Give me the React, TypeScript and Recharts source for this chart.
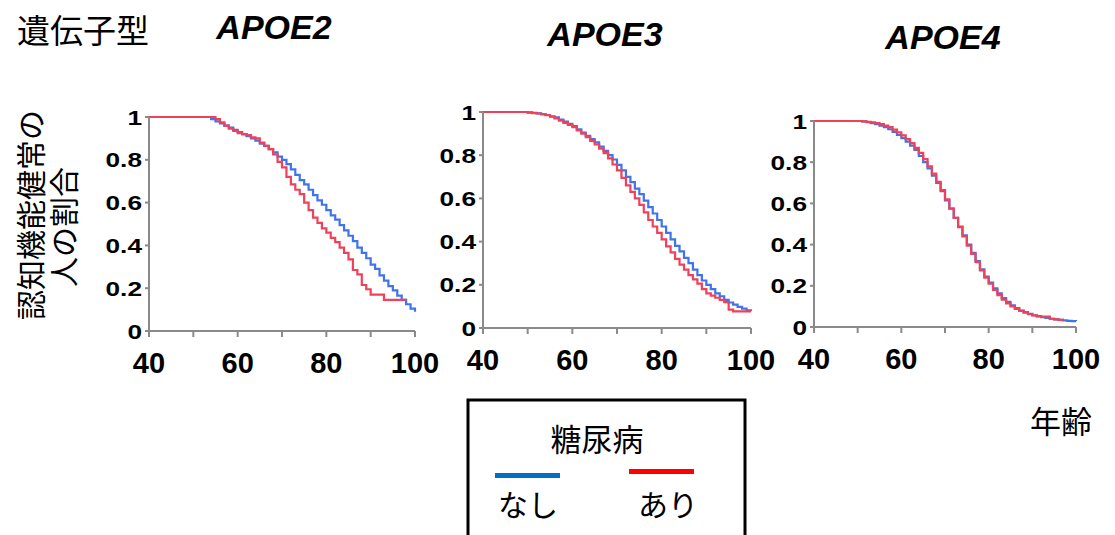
import { LineChart, Line, XAxis, YAxis } from "recharts";

// age grid (years)
const ages = [
  40, 41, 42, 43, 44, 45, 46, 47, 48, 49,
  50, 51, 52, 53, 54, 55, 56, 57, 58, 59,
  60, 61, 62, 63, 64, 65, 66, 67, 68, 69,
  70, 71, 72, 73, 74, 75, 76, 77, 78, 79,
  80, 81, 82, 83, 84, 85, 86, 87, 88, 89,
  90, 91, 92, 93, 94, 95, 96, 97, 98, 99,
  100,
];

// APOE2
const apoe2None = [
  1, 1, 1, 1, 1, 1, 1, 1, 1, 1,
  1, 1, 1, 1, 0.99, 0.98, 0.97, 0.96, 0.95, 0.94,
  0.93, 0.92, 0.91, 0.9, 0.89, 0.875, 0.865, 0.85, 0.835, 0.815,
  0.8, 0.78, 0.755, 0.73, 0.705, 0.685, 0.66, 0.635, 0.61, 0.59,
  0.565, 0.54, 0.52, 0.495, 0.47, 0.445, 0.42, 0.39, 0.365, 0.34,
  0.31, 0.29, 0.26, 0.235, 0.21, 0.19, 0.165, 0.145, 0.125, 0.105,
  0.09,
];
const apoe2Dm = [
  1, 1, 1, 1, 1, 1, 1, 1, 1, 1,
  1, 1, 1, 1, 1, 0.99, 0.975, 0.96, 0.945, 0.935,
  0.925, 0.92, 0.915, 0.905, 0.9, 0.88, 0.865, 0.85, 0.825, 0.79,
  0.765, 0.72, 0.685, 0.66, 0.64, 0.6, 0.565, 0.53, 0.505, 0.48,
  0.46, 0.435, 0.415, 0.39, 0.365, 0.335, 0.285, 0.265, 0.215, 0.195,
  0.17, 0.17, 0.17, 0.145, 0.145, 0.145, 0.145, 0.145, 0.145, null,
  null,
];

// APOE3
const apoe3None = [
  1, 1, 1, 1, 1, 1, 1, 1, 1, 1,
  0.998, 0.996, 0.994, 0.99, 0.986, 0.98, 0.975, 0.965, 0.955, 0.945,
  0.935, 0.92, 0.905, 0.89, 0.875, 0.86, 0.84, 0.82, 0.8, 0.78,
  0.755, 0.73, 0.7, 0.675, 0.645, 0.62, 0.59, 0.56, 0.53, 0.5,
  0.47, 0.44, 0.41, 0.38, 0.355, 0.325, 0.3, 0.27, 0.245, 0.22,
  0.2, 0.18, 0.16, 0.147, 0.13, 0.118, 0.108, 0.098, 0.09, 0.082,
  0.077,
];
const apoe3Dm = [
  1, 1, 1, 1, 1, 1, 1, 1, 1, 1,
  0.997, 0.995, 0.993, 0.99, 0.985, 0.978, 0.97, 0.96, 0.95, 0.94,
  0.93, 0.915, 0.9, 0.883, 0.866, 0.85, 0.83, 0.81, 0.785, 0.757,
  0.73, 0.695, 0.66, 0.63, 0.6, 0.57, 0.535, 0.5, 0.47, 0.44,
  0.41, 0.378, 0.35, 0.32, 0.293, 0.27, 0.245, 0.225, 0.205, 0.18,
  0.16, 0.15, 0.14, 0.13, 0.12, 0.085, 0.077, 0.077, 0.077, 0.077,
  0.077,
];

// APOE4
const apoe4None = [
  1, 1, 1, 1, 1, 1, 1, 1, 1, 1,
  1, 0.998, 0.995, 0.99, 0.985, 0.978, 0.97, 0.96, 0.947, 0.932,
  0.917, 0.9, 0.88, 0.86, 0.83, 0.8, 0.77, 0.735, 0.7, 0.66,
  0.615, 0.575, 0.53, 0.487, 0.445, 0.4, 0.36, 0.32, 0.28, 0.245,
  0.215, 0.188, 0.163, 0.14, 0.122, 0.105, 0.092, 0.08, 0.072, 0.064,
  0.057, 0.052, 0.048, 0.044, 0.04, 0.037, 0.035, 0.032, 0.03, 0.029,
  0.028,
];
const apoe4Dm = [
  1, 1, 1, 1, 1, 1, 1, 1, 1, 1,
  1, 0.998, 0.996, 0.993, 0.99, 0.985, 0.978, 0.97, 0.958, 0.945,
  0.93, 0.912, 0.893, 0.87, 0.845, 0.815, 0.78, 0.745, 0.705, 0.665,
  0.62, 0.575, 0.53, 0.485, 0.44, 0.395, 0.355, 0.315, 0.275, 0.24,
  0.21, 0.18, 0.155, 0.133, 0.115, 0.1, 0.088, 0.078, 0.07, 0.062,
  0.056, 0.053, 0.05, 0.05, 0.04, 0.037, 0.035, 0.033, null, null,
  null,
];

const xTicks = [40, 50, 60, 70, 80, 90, 100];
const xTickLabels = ["40", "", "60", "", "80", "", "100"];
const yTicks = [0, 0.2, 0.4, 0.6, 0.8, 1];
const yTickLabels = ["0", "0.2", "0.4", "0.6", "0.8", "1"];

const BLUE = "#3f74ea";
const RED = "#f0415a";
const AXIS = "#8a8a8a";
const SANS = "'Liberation Sans', Arial, sans-serif";
const CJK = "'Noto Sans CJK JP', 'Noto Sans', sans-serif";

const YTick = (props: any) => {
  const { x, y, payload } = props;
  const label = yTickLabels[yTicks.indexOf(payload.value)];
  return (
    <g transform={`translate(${x},${y})`}>
      <text
        textAnchor="end"
        dy="0.36em"
        transform="scale(1.25,1)"
        fontSize={21}
        fontWeight="bold"
        fontFamily={SANS}
        fill="#000"
      >
        {label}
      </text>
    </g>
  );
};

interface PanelProps {
  px0: number;
  py0: number;
  px1: number;
  py1: number;
  none: (number | null)[];
  dm: (number | null)[];
}

const Panel = ({ px0, py0, px1, py1, none, dm }: PanelProps) => {
  const ml = 60, mt = 22, mr = 30, xh = 60;
  const left = px0 - ml;
  const top = py0 - mt;
  const width = px1 - left + mr;
  const height = py1 - top + xh;
  const rows = ages.map((age, i) => ({ age, none: none[i], dm: dm[i] }));

  return (
    <div style={{ position: "absolute", left, top }}>
      <LineChart width={width} height={height} data={rows} margin={{ top: mt, right: mr, left: 0, bottom: 0 }}>
        <XAxis
          dataKey="age"
          type="number"
          domain={[40, 100]}
          ticks={xTicks}
          interval={0}
          tickFormatter={(v) => xTickLabels[xTicks.indexOf(v)]}
          height={xh}
          stroke={AXIS}
          strokeWidth={2}
          tickSize={6}
          tickMargin={15}
          tick={{ fontSize: 29, fontWeight: "bold", fill: "#000", fontFamily: SANS }}
        />
        <YAxis
          type="number"
          domain={[0, 1]}
          ticks={yTicks}
          interval={0}
          width={ml}
          tick={<YTick />}
          tickSize={4}
          tickMargin={3}
          stroke={AXIS}
          strokeWidth={2}
        />
        <Line type="stepAfter" dataKey="none" stroke={BLUE} strokeWidth={2.2} dot={false} isAnimationActive={false} />
        <Line type="stepAfter" dataKey="dm" stroke={RED} strokeWidth={2.2} dot={false} isAnimationActive={false} />
      </LineChart>
    </div>
  );
};

export default function App() {
  return (
    <div style={{ position: "absolute", left: 0, top: 0, width: 1115, height: 535, background: "#fff", overflow: "hidden" }}>
      <Panel px0={149} py0={117} px1={415} py1={331} none={apoe2None} dm={apoe2Dm} />
      <Panel px0={483} py0={112} px1={751} py1={328} none={apoe3None} dm={apoe3Dm} />
      <Panel px0={814} py0={121} px1={1076} py1={327} none={apoe4None} dm={apoe4Dm} />

      <svg width={1115} height={535} style={{ position: "absolute", left: 0, top: 0, pointerEvents: "none" }}>
        <text x={83} y={29} fontSize={33} fontFamily={CJK} textAnchor="middle" dominantBaseline="central">遺伝子型</text>
        <g fontFamily={SANS} fontSize={34} fontWeight="bold" fontStyle="italic" textAnchor="middle" dominantBaseline="central">
          <text x={274} y={27}>APOE2</text>
          <text x={605} y={34}>APOE3</text>
          <text x={943} y={37}>APOE4</text>
        </g>
        <g fontFamily={CJK} fontSize={30} textAnchor="middle" dominantBaseline="central">
          <text transform="translate(29,215) rotate(-90)">認知機能健常の</text>
          <text transform="translate(62,227) rotate(-90)">人の割合</text>
          <text x={1061} y={419} fontSize={31}>年齢</text>
        </g>

        <rect x={468} y={400} width={277} height={150} fill="none" stroke="#000" strokeWidth={3} />
        <g fontFamily={CJK} textAnchor="middle" dominantBaseline="central">
          <text x={597} y={437} fontSize={31}>糖尿病</text>
          <text x={528} y={503} fontSize={30}>なし</text>
          <text x={668} y={503} fontSize={30}>あり</text>
        </g>
        <line x1={495} x2={560} y1={475.5} y2={475.5} stroke="#0070c0" strokeWidth={5} />
        <line x1={629} x2={694} y1={471.5} y2={471.5} stroke="#ff0000" strokeWidth={5} />
      </svg>
    </div>
  );
}
